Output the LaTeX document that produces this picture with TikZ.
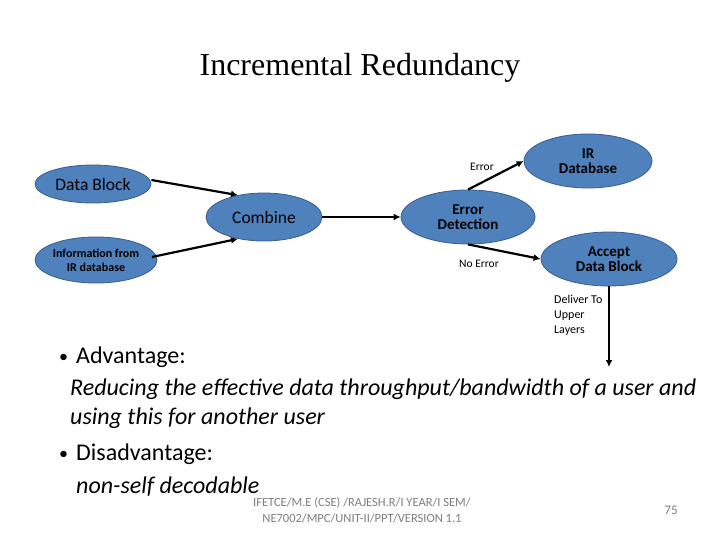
\documentclass[tikz,border=0pt]{standalone}
\usepackage{fontspec}
\setmainfont{Carlito}
\newfontfamily\titlefont{Liberation Serif}
\usetikzlibrary{shapes.geometric,arrows.meta}
\definecolor{ellfill}{HTML}{4F81BD}
\definecolor{elldraw}{HTML}{385D8A}
\definecolor{foot}{HTML}{7F7F7F}
\begin{document}
\begin{tikzpicture}[x=1pt,y=-1pt,
  ell/.style={ellipse,fill=ellfill,draw=elldraw,line width=0.8pt,inner sep=0pt,align=center,text=black},
  conn/.style={line width=2.2pt,-{Latex[length=7pt,width=7pt]}},
  lbl/.style={font=\fontsize{11.5}{12}\selectfont,inner sep=0pt}]
\useasboundingbox (0,0) rectangle (720,540);
\fill[white] (0,0) rectangle (720,540);
\node[font=\titlefont\fontsize{32}{36}\selectfont] (title) at (360,68) {Incremental Redundancy};
% ellipses
\node[ell,minimum width=116pt,minimum height=38pt,font=\fontsize{17.5}{19}\selectfont] (db) at (93,184) {Data Block};
\node[ell,minimum width=116pt,minimum height=48pt,font=\fontsize{17.5}{19}\selectfont] (comb) at (264,217) {Combine};
\node[ell,minimum width=111pt,minimum height=46pt,font=\bfseries\fontsize{12}{14}\selectfont] (info) at (96,260) {Information from\\IR database};
\node[ell,minimum width=134pt,minimum height=54pt,font=\bfseries\fontsize{15}{15}\selectfont] (ed) at (468,217) {Error\\Detection};
\node[ell,minimum width=128pt,minimum height=54pt,font=\bfseries\fontsize{15}{15}\selectfont] (ir) at (588,161) {IR\\Database};
\node[ell,minimum width=136pt,minimum height=54pt,font=\bfseries\fontsize{15}{15}\selectfont] (acc) at (609,259) {Accept\\Data Block};
\coordinate (deliv) at (609,367);
% connectors
\draw[conn] (db.east) ++(0,-4) coordinate (dbA) -- (comb.140);
\draw[conn] (info) ++(56,-3) coordinate (infA) -- (comb.-140);
\draw[conn] (comb.east) -- (ed.west);
\draw[conn] (ed.north) -- (ir.west);
\draw[conn] (ed.south) -- (acc.west);
\draw[conn] (acc.south) -- (deliv);
% labels
\node[lbl] (lerr) at (482,167) {Error};
\node[lbl] (lnoerr) at (479,264) {No Error};
\node[lbl,anchor=north west,align=left,font=\fontsize{12}{15}\selectfont] (ldel) at (554,295) {Deliver To\\Upper\\Layers};
% bullets
\begin{scope}[every node/.style={anchor=base west,inner sep=0pt,font=\fontsize{24}{26}\selectfont}]
\node[font=\fontsize{18}{20}\selectfont] (b1) at (59,362) {\textbullet};
\node (t1) at (76,363) {Advantage:};
\node (t2) at (70,395) {\itshape Reducing the effective data throughput/bandwidth of a user and};
\node (t3) at (70,424) {\itshape using this for another user};
\node[font=\fontsize{18}{20}\selectfont] (b2) at (59,459) {\textbullet};
\node (t4) at (76,460) {Disadvantage:};
\node (t5) at (76,493) {\itshape non-self decodable};
\end{scope}
% footer
\node[font=\fontsize{12.5}{16}\selectfont,text=foot,align=center] (foot1) at (362,510) {IFETCE/M.E (CSE) /RAJESH.R/I YEAR/I SEM/\\NE7002/MPC/UNIT-II/PPT/VERSION 1.1};
\node[font=\fontsize{13}{15}\selectfont,text=foot] (pg) at (671,510) {75};
\end{tikzpicture}
\end{document}
